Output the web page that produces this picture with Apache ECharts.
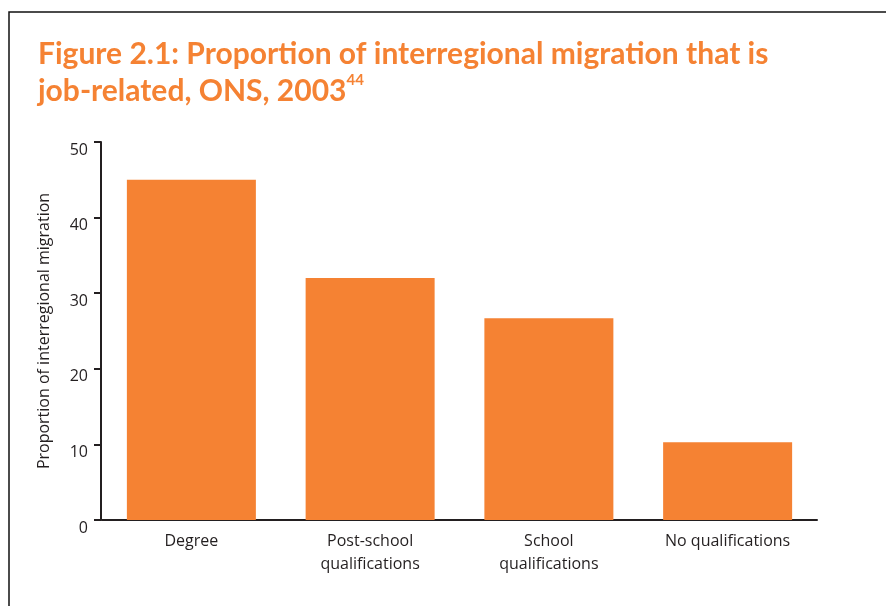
<!DOCTYPE html>
<html>
<head>
<meta charset="utf-8">
<script src="https://cdn.jsdelivr.net/npm/echarts@6/dist/echarts.min.js"></script>
<style>
  html, body { margin: 0; padding: 0; background: #ffffff; }
  #chart { width: 886px; height: 606px; }
</style>
</head>
<body>
<div id="chart"></div>
<script>
// Share of interregional moves that are job-related, by qualification level
const categories = ['Degree', 'Post-school\nqualifications', 'School\nqualifications', 'No qualifications'];
const jobRelatedShare = [45, 32, 26.7, 10.3];
const yTicks = [0, 10, 20, 30, 40, 50];

const orange = '#F58233';
const ink = '#231F20';

const chart = echarts.init(document.getElementById('chart'), null, { renderer: 'canvas' });

chart.setOption({
  backgroundColor: '#ffffff',
  animation: false,
  title: {
    text: 'Figure 2.1: Proportion of interregional migration that is\njob-related, ONS, 2003{sup|44}',
    left: 33,
    top: 31,
    textStyle: {
      fontFamily: 'Lato',
      fontWeight: 'bold',
      fontSize: 30,
      lineHeight: 37,
      color: orange,
      rich: {
        sup: {
          fontFamily: 'Lato',
          fontWeight: 'bold',
          fontSize: 15,
          color: orange,
          verticalAlign: 'top',
          padding: [0, 0, 15, 0]
        }
      }
    }
  },
  graphic: [
    {
      type: 'polyline',
      silent: true,
      shape: { points: [[9, 606], [9, 12], [886, 12]] },
      style: { stroke: '#111111', lineWidth: 1.5, fill: null }
    }
  ],
  grid: {
    left: 102,
    top: 142,
    width: 715,
    bottom: 86,
    containLabel: false
  },
  xAxis: {
    type: 'category',
    data: categories,
    axisLine: { show: true, lineStyle: { color: ink, width: 2 } },
    axisTick: { show: false },
    axisLabel: {
      color: ink,
      fontFamily: 'Open Sans',
      fontSize: 16,
      lineHeight: 23,
      margin: 10,
      interval: 0
    }
  },
  yAxis: {
    type: 'value',
    min: 0,
    max: 50,
    interval: 10,
    offset: 1,
    name: 'Proportion of interregional migration',
    nameLocation: 'middle',
    nameGap: 49,
    nameRotate: 90,
    nameTextStyle: {
      color: ink,
      fontFamily: 'Open Sans',
      fontSize: 16
    },
    axisLine: { show: true, lineStyle: { color: ink, width: 2 } },
    axisTick: { show: true, length: 7, lineStyle: { color: ink, width: 2 } },
    splitLine: { show: false },
    axisLabel: {
      color: ink,
      fontFamily: 'Open Sans',
      fontSize: 16,
      margin: 13,
      verticalAlign: 'top',
      formatter: function (v) { return yTicks.indexOf(v) >= 0 ? String(v) : ''; }
    }
  },
  series: [
    {
      type: 'bar',
      data: jobRelatedShare,
      barWidth: 129,
      itemStyle: { color: orange },
      silent: true
    }
  ]
});
</script>
</body>
</html>
